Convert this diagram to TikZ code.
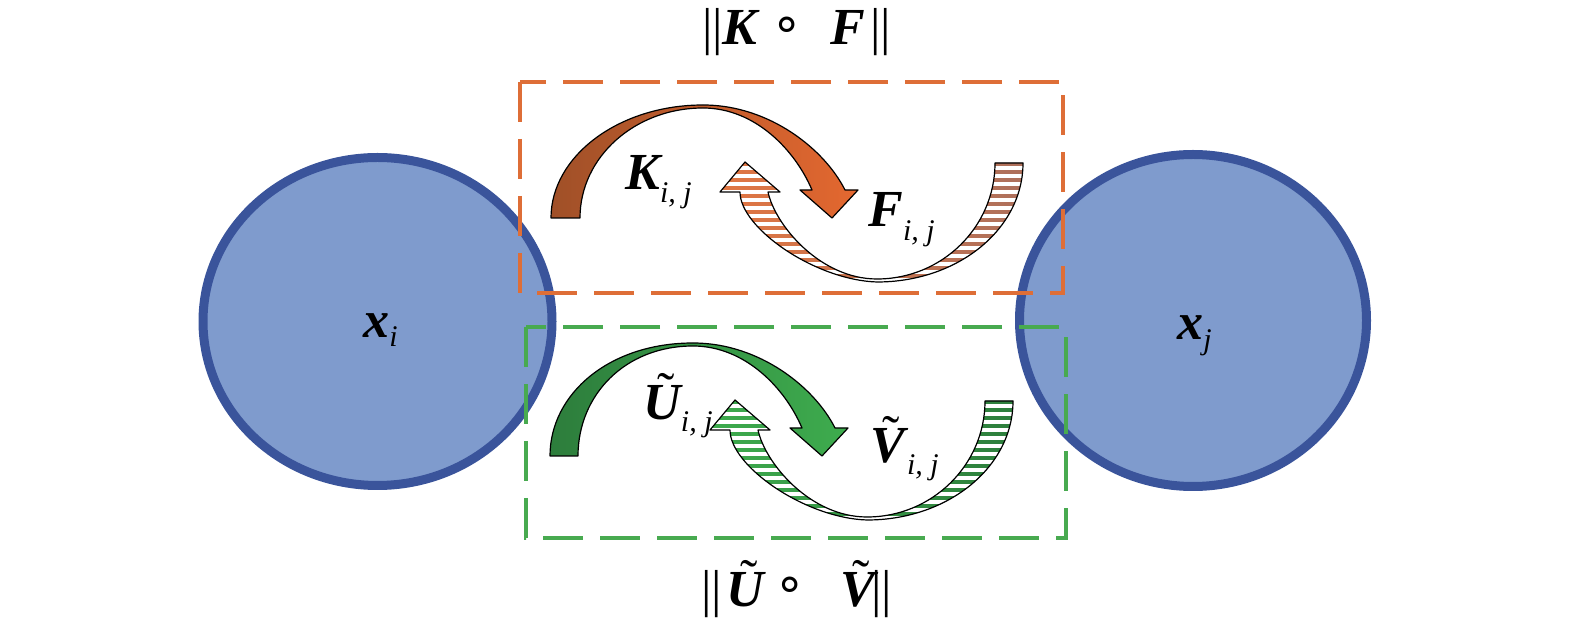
\documentclass[tikz,border=0pt]{standalone}
\usepackage{fontspec}
\setmainfont{Liberation Serif}
\newfontfamily\symfont{DejaVu Sans}
\usetikzlibrary{shapes.geometric}
\definecolor{circfill}{RGB}{127,155,205}
\definecolor{circline}{RGB}{58,84,155}
\definecolor{orangebox}{RGB}{222,110,55}
\definecolor{greenbox}{RGB}{72,170,80}
\definecolor{orA}{RGB}{160,80,40}
\definecolor{orB}{RGB}{228,104,48}
\definecolor{orC}{RGB}{226,118,66}
\definecolor{orD}{RGB}{172,112,92}
\definecolor{grA}{RGB}{45,125,60}
\definecolor{grB}{RGB}{62,172,78}
\definecolor{grC}{RGB}{62,172,78}
\definecolor{grD}{RGB}{45,125,60}
\tikzset{
  circ/.style={ellipse, draw=circline, fill=circfill, line width=4.5pt, inner sep=0pt},
  obox/.style={draw=orangebox, line width=2pt, dash pattern=on 20pt off 8.5pt},
  gbox/.style={draw=greenbox, line width=2pt, dash pattern=on 20pt off 8.5pt},
  outl/.style={draw=black, line width=0.6pt, line join=round},
  stripe/.style={draw=white, line width=1.8pt},
  lab/.style={inner sep=0pt, font=\fontsize{26}{26}\selectfont\bfseries\itshape},
  bars/.style={inner sep=0pt, font=\fontsize{26}{26}\selectfont},
  ring/.style={inner sep=0pt, font=\fontsize{25}{25}\symfont}
}
\newcommand\subij[1]{\raisebox{#1}{\fontsize{15}{15}\selectfont\mdseries\itshape i, j}}
\newcommand\tld[1]{{\ooalign{#1\cr\hidewidth\kern3.5pt\raisebox{5.5pt}{\mdseries\upshape ˜}\hidewidth\cr}}}
\newcommand\drawarrowpair[8]{%
\begin{scope}[shift={(#7,#8)}]
 \begin{scope}
 \clip (1023,163) .. controls (1023,229) and (958,282) .. (877,282)
 .. controls (815,280) and (740,228) .. (740,192)
 -- (720,192) -- (745,162) -- (780,192) -- (768,192)
 .. controls (775,225) and (820,279) .. (877,279)
 .. controls (942,279) and (995,227) .. (995,163) -- cycle;
 \fill[left color=#3, right color=#4] (715,155) rectangle (1030,290);
 \foreach \yy in {160,168,...,288} \draw[stripe] (715,\yy) -- (1030,\yy);
 \end{scope}
 \path[outl]
 (1023,163) .. controls (1023,229) and (958,282) .. (877,282)
 .. controls (815,280) and (740,228) .. (740,192)
 -- (720,192) -- (745,162) -- (780,192) -- (768,192)
 .. controls (775,225) and (820,279) .. (877,279)
 .. controls (942,279) and (995,227) .. (995,163) -- cycle;
 \path[left color=#1, right color=#2, outl]
 (#5,218) .. controls (#5,156) and (619,105) .. (703,105)
 .. controls (770,105) and (825,150) .. (845,190)
 -- (858,190) -- (832,218) -- (800,190) -- (812,190)
 .. controls (795,150) and (755,108) .. (703,108)
 .. controls (635,108) and (#6,157) .. (#6,218) -- cycle;
\end{scope}}
\begin{document}
\begin{tikzpicture}[x=0.5pt,y=-0.5pt]
\useasboundingbox (0,0) rectangle (1575,619);
% circles
\node[circ, minimum width=174.5pt, minimum height=164pt] (ci) at (377.5,321.5) {};
\node[circ, minimum width=173.5pt, minimum height=166pt] (cj) at (1193,320.5) {};
\node[lab, anchor=base west] (xi) at (363,338) {x\raisebox{-4.5pt}{\fontsize{15}{15}\selectfont\mdseries\itshape i}};
\node[lab, anchor=base west] (xj) at (1177,340) {x\raisebox{-5pt}{\fontsize{15}{15}\selectfont\mdseries\itshape j}};
% boxes
\draw[obox] (520,82) rectangle (1063,293);
\draw[gbox] (526,327) rectangle (1066,538);
% arrows
\drawarrowpair{orA}{orB}{orC}{orD}{551}{580}{0}{0}
\drawarrowpair{grA}{grB}{grC}{grD}{560}{588}{-10}{238}
% arrow labels
\node[lab, anchor=base west] (Kij) at (625,190) {K\subij{-6.5pt}};
\node[lab, anchor=base west] (Fij) at (868,227) {F\subij{-7pt}};
\node[lab, anchor=base west] (Uij) at (643,420) {\tld{U}\subij{-6pt}};
\node[lab, anchor=base west] (Vij) at (870,463) {\tld{V}\kern1pt\subij{-6pt}};
% top norm
\node[bars, anchor=base west] (tb1) at (702,45) {||};
\node[lab, anchor=base west] (tK) at (722,45) {K};
\node[ring] (tc) at (787,29) {∘};
\node[lab, anchor=base west] (tF) at (830,45) {F};
\node[bars, anchor=base west] (tb2) at (870,45) {||};
% bottom norm
\node[bars, anchor=base west] (bb1) at (701,607) {||};
\node[lab, anchor=base west] (bU) at (726,607) {\tld{U}};
\node[ring] (bc) at (790,589) {∘};
\node[lab, anchor=base west] (bV) at (840,607) {\tld{V}};
\node[bars, anchor=base west] (bb2) at (871,607) {||};
\end{tikzpicture}
\end{document}
